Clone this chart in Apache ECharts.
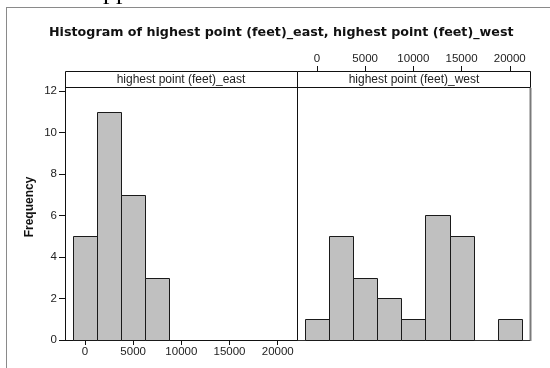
<!DOCTYPE html>
<html>
<head>
<meta charset="utf-8">
<script src="https://cdn.jsdelivr.net/npm/echarts@6/dist/echarts.min.js"></script>
<style>html,body{margin:0;padding:0;background:#fff}#c{width:550px;height:368px}</style>
</head>
<body>
<div id="c"></div>
<script>
// ---- data ----
const binCenters = [0, 2500, 5000, 7500, 10000, 12500, 15000, 17500, 20000];
const binWidth = 2500;
const eastCounts = [5, 11, 7, 3, 0, 0, 0, 0, 0];
const westCounts = [1, 5, 3, 2, 1, 6, 5, 0, 1];
const xTicks = [0, 5000, 10000, 15000, 20000];
const yTicks = [0, 2, 4, 6, 8, 10, 12];
const panelNames = ['highest point (feet)_east', 'highest point (feet)_west'];
const titleText = 'Histogram of highest point (feet)_east, highest point (feet)_west';

const FONT = 'Liberation Sans';
const chart = echarts.init(document.getElementById('c'), null, {renderer: 'canvas'});

function toData(counts) { return binCenters.map((c, i) => [c, counts[i]]); }

function renderHist(params, api) {
  const c = api.value(0), n = api.value(1);
  if (!n) return null;
  const p0 = api.coord([c - binWidth / 2, n]);
  const p1 = api.coord([c + binWidth / 2, 0]);
  return {
    type: 'rect',
    shape: {x: Math.round(p0[0]) + 0.5, y: Math.round(p0[1]) + 0.5,
            width: Math.round(p1[0]) - Math.round(p0[0]), height: Math.round(p1[1]) - Math.round(p0[1])},
    style: {fill: '#c0c0c0', stroke: '#1a1a1a', lineWidth: 1}
  };
}

const lab = {fontFamily: FONT, fontSize: 11.5, color: '#222', formatter: v => String(v)};

const option = {
  animation: false,
  backgroundColor: '#fff',
  title: {
    text: titleText, left: 49, top: 26, padding: 0,
    textStyle: {fontFamily: 'DejaVu Sans', fontSize: 12.7, fontWeight: 'bold', color: '#111'}
  },
  grid: [
    {left: 65, top: 87, width: 232, height: 253},
    {left: 297, top: 87, width: 233, height: 253}
  ],
  xAxis: [
    {gridIndex: 0, type: 'value', min: -2070, max: 22000, position: 'bottom',
     axisLine: {show: true, onZero: false, lineStyle: {color: '#111', width: 1}},
     axisTick: {show: true, inside: false, length: 5, customValues: xTicks, lineStyle: {color: '#111'}},
     axisLabel: Object.assign({customValues: xTicks, margin: 6}, lab),
     splitLine: {show: false}},
    {gridIndex: 1, type: 'value', min: -2070, max: 22100, position: 'top', offset: 16,
     axisLine: {show: false, onZero: false},
     axisTick: {show: true, inside: false, length: 5, customValues: xTicks, lineStyle: {color: '#111'}},
     axisLabel: Object.assign({customValues: xTicks, margin: 6}, lab),
     splitLine: {show: false}}
  ],
  yAxis: [
    {gridIndex: 0, type: 'value', min: 0, max: 12.19,
     axisLine: {show: true, onZero: false, lineStyle: {color: '#111', width: 1}},
     axisTick: {show: true, inside: false, length: 6, customValues: yTicks, lineStyle: {color: '#111'}},
     axisLabel: Object.assign({customValues: yTicks, margin: 8}, lab),
     splitLine: {show: false}},
    {gridIndex: 1, type: 'value', min: 0, max: 12.19,
     axisLine: {show: true, onZero: false, lineStyle: {color: '#111', width: 1}},
     axisTick: {show: false}, axisLabel: {show: false}, splitLine: {show: false}}
  ],
  series: [
    {type: 'custom', xAxisIndex: 0, yAxisIndex: 0, renderItem: renderHist,
     encode: {x: 0, y: 1}, data: toData(eastCounts), z: 3},
    {type: 'custom', xAxisIndex: 1, yAxisIndex: 1, renderItem: renderHist,
     encode: {x: 0, y: 1}, data: toData(westCounts), z: 3}
  ],
  graphic: [
    // outer page frame fragments
    {type: 'line', shape: {x1: 6.5, y1: 7.5, x2: 6.5, y2: 368}, style: {stroke: '#8a8a8a', lineWidth: 1}},
    {type: 'line', shape: {x1: 6, y1: 7.5, x2: 550, y2: 7.5}, style: {stroke: '#8a8a8a', lineWidth: 1}},
    {type: 'text', x: 103, y: -8, style: {text: 'pp', fontFamily: 'Liberation Serif', fontSize: 26,
      fill: '#000', verticalAlign: 'middle'}},
    // strips
    {type: 'rect', shape: {x: 65.5, y: 71.5, width: 232, height: 16}, style: {fill: '#fff', stroke: '#111', lineWidth: 1}},
    {type: 'rect', shape: {x: 297.5, y: 71.5, width: 233, height: 16}, style: {fill: '#fff', stroke: '#111', lineWidth: 1}},
    {type: 'text', x: 181, y: 79.5, style: {text: panelNames[0], fontFamily: FONT, fontSize: 12, fill: '#222',
      align: 'center', verticalAlign: 'middle'}},
    {type: 'text', x: 414, y: 79.5, style: {text: panelNames[1], fontFamily: FONT, fontSize: 12, fill: '#222',
      align: 'center', verticalAlign: 'middle'}},
    // right panel border + bottom
    {type: 'line', shape: {x1: 530.5, y1: 88, x2: 530.5, y2: 341}, style: {stroke: '#7a7a7a', lineWidth: 2}},
    {type: 'line', shape: {x1: 297, y1: 340.5, x2: 530, y2: 340.5}, style: {stroke: '#333', lineWidth: 1}},
    // y axis name
    {type: 'text', x: 30, y: 207, rotation: Math.PI / 2,
     style: {text: 'Frequency', fontFamily: FONT, fontSize: 12, fontWeight: 'bold', fill: '#111',
       align: 'center', verticalAlign: 'middle'}}
  ]
};
chart.setOption(option);
</script>
</body>
</html>
